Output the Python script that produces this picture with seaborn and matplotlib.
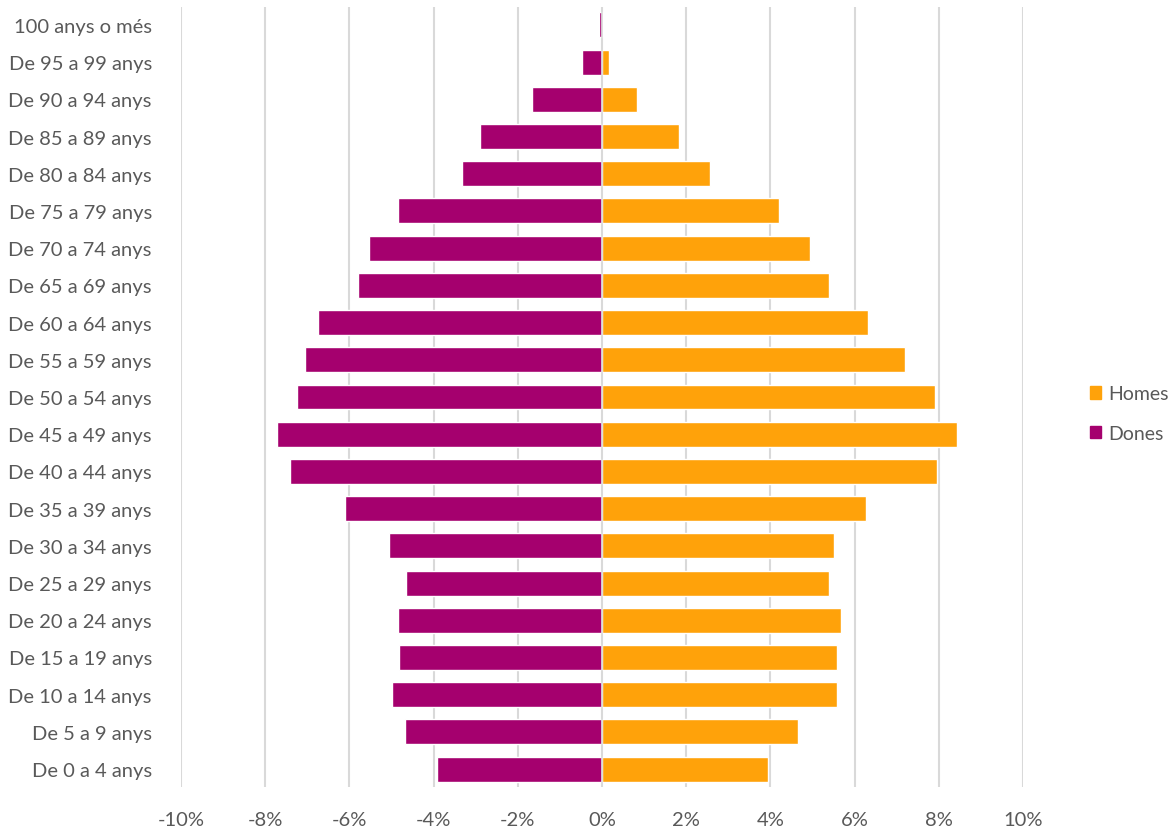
import matplotlib
matplotlib.use("Agg")
import matplotlib.pyplot as plt
import seaborn as sns
import pandas as pd
from matplotlib.ticker import FuncFormatter
from matplotlib.patches import Patch

# Age groups, top to bottom
grups = ['100 anys o més', 'De 95 a 99 anys', 'De 90 a 94 anys', 'De 85 a 89 anys',
         'De 80 a 84 anys', 'De 75 a 79 anys', 'De 70 a 74 anys', 'De 65 a 69 anys',
         'De 60 a 64 anys', 'De 55 a 59 anys', 'De 50 a 54 anys', 'De 45 a 49 anys',
         'De 40 a 44 anys', 'De 35 a 39 anys', 'De 30 a 34 anys', 'De 25 a 29 anys',
         'De 20 a 24 anys', 'De 15 a 19 anys', 'De 10 a 14 anys', 'De 5 a 9 anys',
         'De 0 a 4 anys']

# percentages (dones drawn as negative)
dones = [0.07, 0.48, 1.66, 2.90, 3.33, 4.85, 5.53, 5.80, 6.75, 7.05, 7.24, 7.72,
         7.41, 6.10, 5.06, 4.66, 4.85, 4.82, 4.99, 4.68, 3.92]
homes = [0.02, 0.17, 0.83, 1.83, 2.57, 4.20, 4.94, 5.39, 6.32, 7.20, 7.91, 8.43,
         7.96, 6.27, 5.51, 5.39, 5.68, 5.58, 5.58, 4.66, 3.94]

df = pd.DataFrame({'grup': grups, 'Homes': homes, 'Dones': [-d for d in dones]})

col_homes = '#FFA20A'
col_dones = '#A5006E'

sns.set_style('white')
plt.rcParams['font.family'] = ['Lato', 'DejaVu Sans']

fig = plt.figure(figsize=(11.72, 8.29), dpi=100)
ax = fig.add_axes([181/1172, 41/829, 842/1172, 780/829])

sns.barplot(data=df, x='Dones', y='grup', order=grups, color=col_dones,
            width=0.67, saturation=1, ax=ax, zorder=3)
sns.barplot(data=df, x='Homes', y='grup', order=grups, color=col_homes,
            width=0.67, saturation=1, ax=ax, zorder=3)

ax.set_xlim(-10, 10)
ax.set_ylim(20.48, -0.48)
ax.set_xticks(range(-10, 11, 2))
ax.xaxis.set_major_formatter(FuncFormatter(lambda v, p: f'{v:.0f}%'))
ax.grid(axis='x', color='#D9D9D9', linewidth=1.5, zorder=0)
ax.axvline(0, color='#D9D9D9', linewidth=1.2, zorder=4)
for s in ax.spines.values():
    s.set_visible(False)
ax.set_xlabel('')
ax.set_ylabel('')
ax.tick_params(axis='both', length=0, labelsize=14.5, labelcolor='#595959')
ax.tick_params(axis='x', pad=17)
ax.tick_params(axis='y', pad=21)

handles = [Patch(color=col_homes, label='Homes'), Patch(color=col_dones, label='Dones')]
fig.legend(handles=handles, loc='center left', bbox_to_anchor=(1072/1172, 0.5),
           frameon=False, fontsize=14, handlelength=0.6, handleheight=0.6,
           handletextpad=0.35, labelspacing=1.15, labelcolor='#595959')

fig.savefig('out.png', dpi=100)
